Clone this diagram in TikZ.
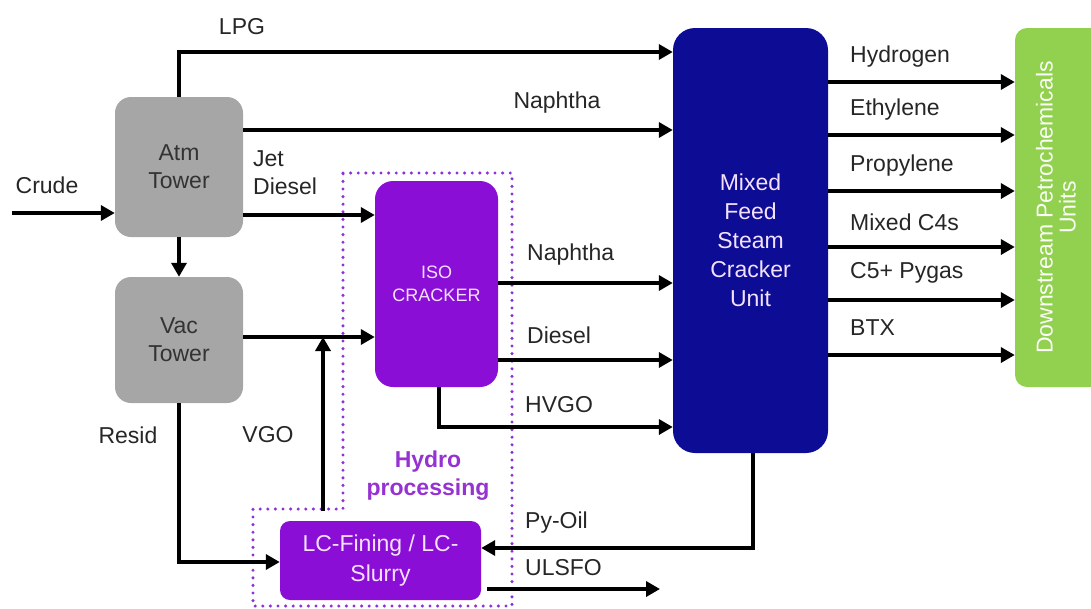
\documentclass[tikz,border=0pt]{standalone}
\usepackage{fontspec}
\setmainfont{Liberation Sans}
\usetikzlibrary{arrows.meta}
\definecolor{towergray}{RGB}{166,166,166}
\definecolor{procpurple}{RGB}{138,14,214}
\definecolor{mfscblue}{RGB}{12,12,148}
\definecolor{dsgreen}{RGB}{146,208,80}
\definecolor{dotpurple}{RGB}{140,50,215}
\definecolor{hydrotext}{RGB}{150,50,210}
\definecolor{lavender}{RGB}{245,225,255}
\tikzset{
  box/.style={rectangle, inner sep=0pt, align=center},
  tower/.style={box, fill=towergray, rounded corners=16pt, font=\fontsize{23}{28}\selectfont, text=black!80},
  proc/.style={box, fill=procpurple, text=lavender},
  lbl/.style={inner sep=0pt, font=\fontsize{23}{28}\selectfont, text=black!85},
  flow/.style={line width=3.6pt, -{Triangle[length=14pt,width=15pt]}},
  hydrobox/.style={dotpurple, line width=3.4pt, line cap=round, dash pattern=on 0pt off 7.6pt}
}
\begin{document}
\begin{tikzpicture}[x=1pt,y=-1pt]
\useasboundingbox (0,0) rectangle (1091,608);
% hydro processing dotted outline
\draw[hydrobox] (343,173) -- (512,173) -- (512,606) -- (253,606) -- (253,509) -- (343,509) -- cycle;

% nodes
\node[tower, minimum width=128pt, minimum height=140pt] (atm) at (179,167) {Atm\\Tower};
\node[tower, minimum width=128pt, minimum height=126pt] (vac) at (179,340) {Vac\\Tower};
\node[proc, rounded corners=18pt, minimum width=123pt, minimum height=206pt, font=\fontsize{18}{23}\selectfont] (iso) at (436.5,284) {ISO\\CRACKER};
\node[proc, rounded corners=10pt, minimum width=201pt, minimum height=79pt, font=\fontsize{23}{30}\selectfont] (lc) at (380.5,560.5) {LC-Fining / LC-\\Slurry};
\node[box, fill=mfscblue, text=lavender, rounded corners=22pt, minimum width=155pt, minimum height=425pt, font=\fontsize{23}{29}\selectfont] (mfsc) at (750.5,240.5) {Mixed\\Feed\\Steam\\Cracker\\Unit};
\node[box, fill=dsgreen, rounded corners=12pt, minimum width=130pt, minimum height=359pt] (ds) at (1080,207.5) {};
\node[box, rotate=90, text=white!95!dsgreen, font=\fontsize{23}{23}\selectfont] (dstext) at (1056,207.5) {Downstream Petrochemicals\\Units};

\node[box, hydrotext, font=\bfseries\fontsize{23}{28}\selectfont] (hydro) at (428,476) {Hydro\\processing};

% labels
\node[lbl] (lpg) at (242,27) {LPG};
\node[lbl] (crude) at (47,185) {Crude};
\node[lbl, anchor=west, align=left] (jet) at (253,173) {Jet\\Diesel};
\node[lbl] (naph1) at (557,103) {Naphtha};
\node[lbl, anchor=west] (naph2) at (527,255) {Naphtha};
\node[lbl, anchor=west] (dies) at (527,335) {Diesel};
\node[lbl, anchor=west] (hvgo) at (525,405) {HVGO};
\node[lbl, anchor=west] (pyoil) at (525,523) {Py-Oil};
\node[lbl, anchor=west] (ulsfo) at (525,568) {ULSFO};
\node[lbl] (resid) at (128,435) {Resid};
\node[lbl] (vgo) at (268,435) {VGO};
\node[lbl, anchor=west] (h2) at (850,57) {Hydrogen};
\node[lbl, anchor=west] (eth) at (850,110) {Ethylene};
\node[lbl, anchor=west] (prop) at (850,166) {Propylene};
\node[lbl, anchor=west] (c4) at (850,222) {Mixed C4s};
\node[lbl, anchor=west] (c5) at (850,273) {C5+ Pygas};
\node[lbl, anchor=west] (btx) at (850,328) {BTX};

% free ends
\coordinate (crudein) at (12,213);
\coordinate (ulsfoout) at (660,589);
\coordinate (vgoup) at (323,337);

% connectors
\draw[flow] (crudein) -- (crudein -| atm.west);
\draw[flow] (atm.south) -- (vac.north);
\draw[flow] (atm.north) |- (mfsc.west |- 0,52);
\draw[flow] (atm.east |- 0,130) -- (mfsc.west |- 0,130);
\draw[flow] (atm.east |- 0,215) -- (iso.west |- 0,215);
\draw[flow] (vac.east |- 0,337) -- (iso.west |- 0,337);
\draw[flow] (lc.north -| vgoup) ++(0,-10) -- (vgoup);
\draw[flow] (iso.east |- 0,283) -- (mfsc.west |- 0,283);
\draw[flow] (iso.east |- 0,360) -- (mfsc.west |- 0,360);
\draw[flow] (iso.south -| 439,0) |- (mfsc.west |- 0,427);
\draw[flow] (vac.south) |- (lc.west |- 0,562);
\draw[flow] (mfsc.south -| 753,0) |- (lc.east |- 0,548);
\draw[flow] (lc.east |- 0,589) ++(6,0) -- (ulsfoout);
\foreach \yy in {82,135,191,247,300,355}{
  \draw[flow] (mfsc.east |- 0,\yy) -- (ds.west |- 0,\yy);
}
\end{tikzpicture}
\end{document}
